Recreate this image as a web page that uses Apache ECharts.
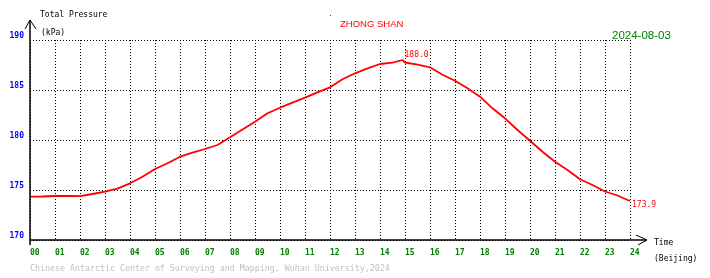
<!DOCTYPE html>
<html><head><meta charset="utf-8">
<script src="https://cdn.jsdelivr.net/npm/echarts@6/dist/echarts.min.js"></script>
<style>html,body{margin:0;padding:0;background:#fff}#c{width:710px;height:278px}</style>
</head><body><div id="c"></div>
<script>
// Data (hour of day, Beijing time; total pressure kPa)
var hours = [0,0.5,1,1.5,2,2.5,3,3.5,4,4.5,5,5.5,6,6.5,7,7.5,8,8.5,9,9.5,10,10.5,11,11.5,12,12.5,13,13.5,14,14.5,14.9,15,15.5,16,16.5,17,17.5,18,18.5,19,19.5,20,20.5,21,21.5,22,22.5,23,23.5,24];
var pressure = [174.33,174.35,174.4,174.4,174.38,174.6,174.83,175.13,175.67,176.33,177.1,177.67,178.33,178.73,179.1,179.5,180.27,181.05,181.83,182.67,183.23,183.73,184.23,184.77,185.27,186.07,186.67,187.17,187.6,187.73,188.0,187.75,187.53,187.27,186.53,185.93,185.17,184.33,183.17,182.17,181.0,179.93,178.83,177.83,177.0,176.07,175.5,174.85,174.45,173.9];
var xTicks = ['00','01','02','03','04','05','06','07','08','09','10','11','12','13','14','15','16','17','18','19','20','21','22','23','24'];
var yTicks = [170,175,180,185,190];
var stationName = 'ZHONG SHAN';
var dateText = '2024-08-03';

var mono = '"DejaVu Sans Mono", "Liberation Mono", monospace';
var lineData = hours.map(function(h,i){return [h, pressure[i]];});
var maxIdx = 0;
pressure.forEach(function(v,i){ if(v>pressure[maxIdx]) maxIdx=i; });
var lastIdx = pressure.length-1;

var chart = echarts.init(document.getElementById('c'), null, {renderer:'canvas'});
chart.setOption({
  animation:false,
  backgroundColor:'#ffffff',
  grid:{left:30,right:80,top:40,bottom:38,containLabel:false},
  xAxis:{
    type:'value',min:0,max:24,interval:1,
    axisLine:{show:false},axisTick:{show:false},
    splitLine:{show:true,lineStyle:{color:'#000',width:1,type:[1,2]}},
    axisLabel:{color:'#008000',fontFamily:mono,fontSize:8,fontWeight:'bold',margin:9,align:'left',
      formatter:function(v){return xTicks[Math.round(v)];}}
  },
  yAxis:{
    type:'value',min:yTicks[0],max:yTicks[yTicks.length-1],interval:5,
    axisLine:{show:false},axisTick:{show:false},
    splitLine:{show:true,lineStyle:{color:'#000',width:1,type:[1,2]}},
    axisLabel:{color:'#0000ff',fontFamily:mono,fontSize:8,fontWeight:'bold',margin:6,verticalAlign:'bottom'}
  },
  series:[{
    type:'line',data:lineData,showSymbol:false,
    lineStyle:{color:'#ff0000',width:1.8},
    z:5,
    markPoint:{
      symbol:'circle',symbolSize:0,
      data:[
        {coord:lineData[maxIdx],value:pressure[maxIdx],
          label:{show:true,position:'inside',align:'left',verticalAlign:'bottom',offset:[2,-1],
            color:'#ff0000',fontFamily:mono,fontSize:8,formatter:function(p){return p.value.toFixed(1);}}},
        {coord:lineData[lastIdx],value:pressure[lastIdx],
          label:{show:true,position:'inside',align:'left',verticalAlign:'middle',offset:[2,4],
            color:'#ff0000',fontFamily:mono,fontSize:8,formatter:function(p){return p.value.toFixed(1);}}}
      ]
    }
  }],
  graphic:[
    {type:'line',shape:{x1:30,y1:245,x2:30,y2:20},style:{stroke:'#000',lineWidth:1.5},z:10},
    {type:'polyline',shape:{points:[[25,29],[30,20],[36,29]]},style:{stroke:'#000',lineWidth:1,fill:null},z:10},
    {type:'line',shape:{x1:30,y1:240,x2:647,y2:240},style:{stroke:'#000',lineWidth:1.5},z:10},
    {type:'polyline',shape:{points:[[636,235],[647,240],[638,245]]},style:{stroke:'#000',lineWidth:1,fill:null},z:10},
    {type:'text',left:40,top:11,style:{text:'Total Pressure',fill:'#000',font:'8px '+mono}},
    {type:'text',left:41,top:29,style:{text:'(kPa)',fill:'#000',font:'8px '+mono}},
    {type:'text',left:654,top:239,style:{text:'Time',fill:'#000',font:'8px '+mono}},
    {type:'text',left:654,top:255,style:{text:'(Beijing)',fill:'#000',font:'8px '+mono}},
    {type:'text',left:340,top:19,style:{text:stationName,fill:'#ff0000',font:'9.5px "Liberation Sans", Arial, sans-serif'}},
    {type:'rect',shape:{x:330,y:15,width:1,height:1},style:{fill:'#ff0000'}},
    {type:'text',left:612,top:30,style:{text:dateText,fill:'#008000',font:'11.5px "Liberation Sans", Arial, sans-serif'}},
    {type:'text',left:30,top:265,style:{text:'Chinese Antarctic Center of Surveying and Mapping, Wuhan University,2024',fill:'#c0c0c0',font:'8.3px '+mono}}
  ]
});
</script>
</body></html>
